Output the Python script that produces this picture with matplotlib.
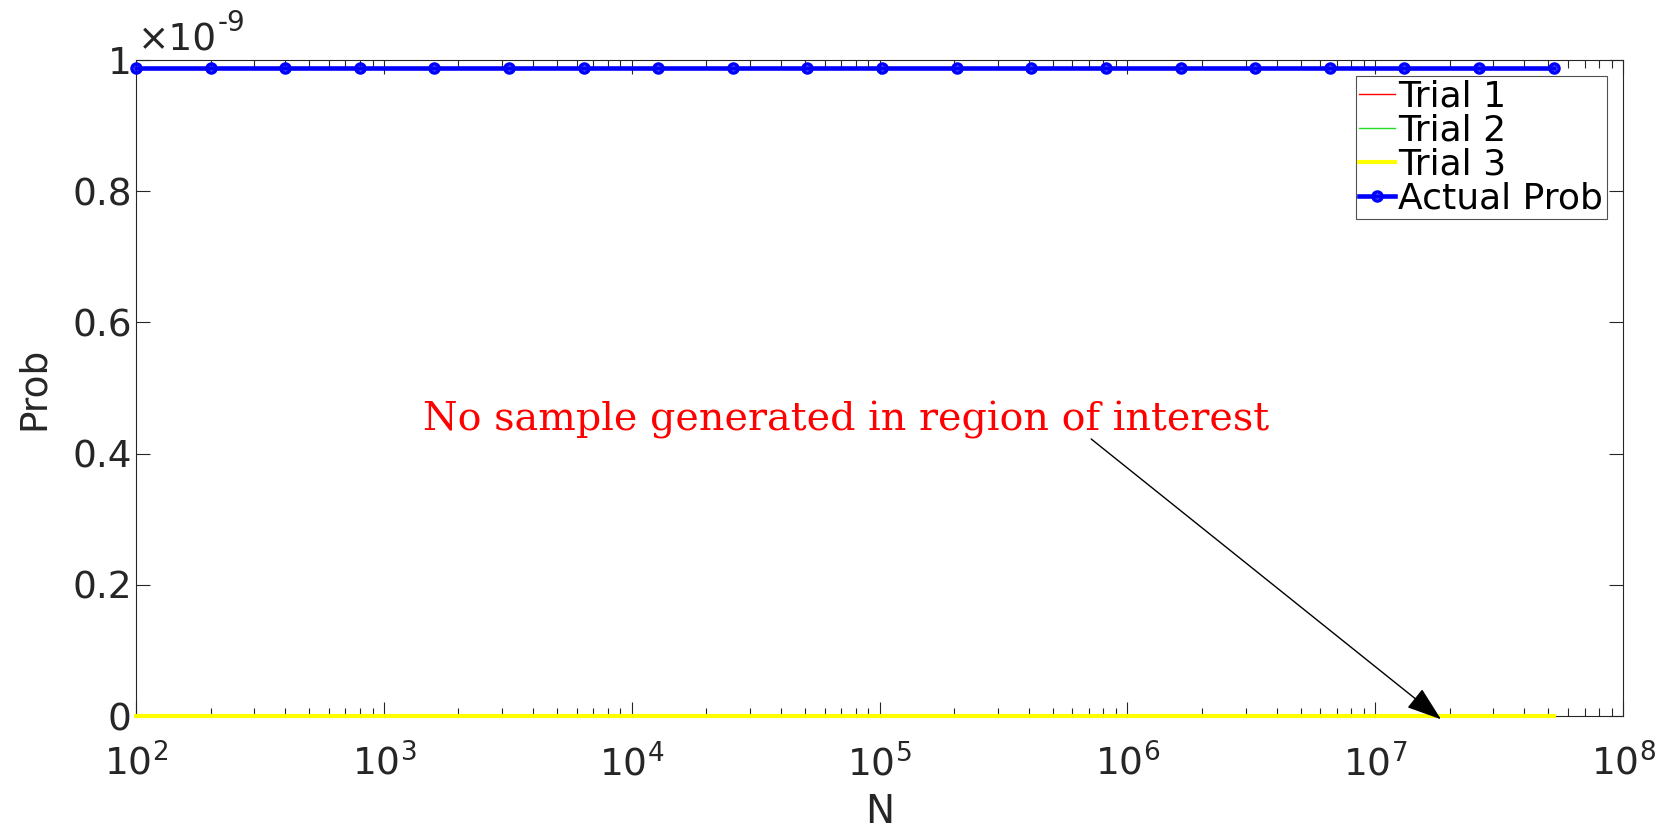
import numpy as np
import matplotlib
matplotlib.use('Agg')
import matplotlib.pyplot as plt
from matplotlib.ticker import FuncFormatter, LogLocator, FixedLocator

# sample sizes N = 100 * 2^k
n_vals = [100, 200, 400, 800, 1600, 3200, 6400, 12800, 25600, 51200,
          102400, 204800, 409600, 819200, 1638400, 3276800, 6553600,
          13107200, 26214400, 52428800]
trial1 = [0.0] * 20
trial2 = [0.0] * 20
trial3 = [0.0] * 20
actual = [0.988e-9] * 20

y_ticks = [0, 0.2e-9, 0.4e-9, 0.6e-9, 0.8e-9, 1.0e-9]
x_ticks = [1e2, 1e3, 1e4, 1e5, 1e6, 1e7, 1e8]

txt = '#262626'

fig = plt.figure(figsize=(16.71, 8.30), dpi=100)
ax = fig.add_axes([0.0814, 0.1373, 0.8899, 0.7904])

ax.plot(n_vals, trial1, color='red', lw=1, label='Trial 1', clip_on=False, zorder=3)
ax.plot(n_vals, trial2, color='#22dd22', lw=1, label='Trial 2', clip_on=False, zorder=3)
ax.plot(n_vals, trial3, color='yellow', lw=3, label='Trial 3', clip_on=False, zorder=3)
ax.plot(n_vals, actual, color='blue', lw=3.3, marker='o', ms=6.5,
        mfc='none', mew=2.5, label='Actual Prob', clip_on=False, zorder=4)

ax.set_xscale('log')
ax.set_xlim(1e2, 1e8)
ax.set_ylim(0, 1e-9)
ax.xaxis.set_major_locator(FixedLocator(x_ticks))
ax.xaxis.set_minor_locator(LogLocator(base=10, subs=np.arange(2, 10)))
ax.xaxis.set_major_formatter(FuncFormatter(lambda v, p: r'$10^{%d}$' % round(np.log10(v))))
ax.yaxis.set_major_locator(FixedLocator(y_ticks))
ax.yaxis.set_major_formatter(FuncFormatter(lambda v, p: '%g' % round(v / 1e-9, 1)))

ax.tick_params(which='both', direction='in', top=True, right=True,
               labelcolor=txt, color=txt)
ax.tick_params(which='major', length=10, width=0.8)
ax.tick_params(which='minor', length=5.5, width=0.8)
ax.tick_params(axis='x', which='major', pad=20, labelsize=27)
ax.tick_params(axis='y', which='major', pad=3, labelsize=27)
for s in ax.spines.values():
    s.set_color(txt)
    s.set_linewidth(0.8)

# scale factor above the y axis
t1 = ax.text(0.0013, 1.014, '\u00d710', transform=ax.transAxes,
             fontsize=27, color=txt, ha='left', va='baseline')
ax.annotate('-9', xy=(1, 0), xycoords=t1, xytext=(0.5, 16),
            textcoords='offset points', fontsize=20, color=txt,
            ha='left', va='bottom')

ax.set_xlabel('N', fontsize=28, color=txt)
ax.xaxis.set_label_coords(0.5, -0.118)
ax.set_ylabel('Prob', fontsize=27, color=txt)
ax.yaxis.set_label_coords(-0.0565, 0.5)

leg = ax.legend(loc='upper right', fontsize=26, frameon=True, fancybox=False,
                handlelength=1.0, handletextpad=0.08, borderpad=0.1,
                labelspacing=0.0, borderaxespad=0.45)
leg.get_frame().set_edgecolor(txt)
leg.get_frame().set_linewidth(0.8)

ax.text(7.33e4, 0.452e-9, 'No sample generated in region of interest',
        color='red', fontsize=28.5, family='DejaVu Serif',
        ha='center', va='center')
ax.annotate('', xy=(1.88e7, -0.0076e-9), xytext=(7.0e5, 0.425e-9),
            arrowprops=dict(arrowstyle='-|>,head_length=0.55,head_width=0.19',
                            color='black', lw=1, mutation_scale=40),
            annotation_clip=False)

fig.savefig('out.png', dpi=100)
